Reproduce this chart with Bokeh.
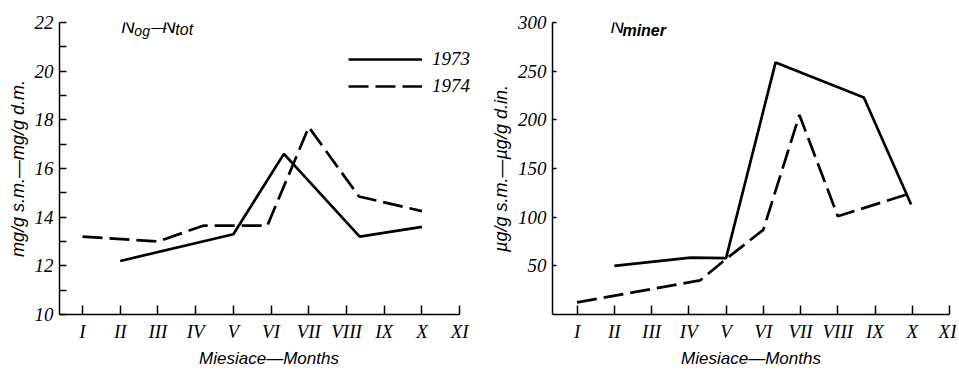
from bokeh.plotting import figure
from bokeh.models import FixedTicker, Legend, LegendItem, Label
from bokeh.layouts import row
from bokeh.embed import file_html
from bokeh.resources import INLINE

# ---- data ----
month_ticks = [1, 2, 3, 4, 5, 6, 7, 8, 9, 10, 11]
month_labels = ["I", "II", "III", "IV", "V", "VI", "VII", "VIII", "IX", "X", "XI"]

# N_og - N_tot (mg/g)
tot_1973_x = [2, 5, 6.34, 8.35, 10]
tot_1973_y = [12.2, 13.3, 16.6, 13.2, 13.6]
tot_1974_x = [1, 3, 4.2, 5.9, 7, 8.33, 10]
tot_1974_y = [13.2, 13.0, 13.65, 13.65, 17.7, 14.85, 14.25]

# N_miner (ug/g)
min_1973_x = [2, 4.05, 5, 6.33, 8.7, 9.97]
min_1973_y = [50, 58.5, 58, 259, 223, 113]
min_1974_x = [1, 4.3, 5, 6, 6.97, 8, 10]
min_1974_y = [12.5, 35, 57, 87, 205, 101, 125]

left_major = [10, 12, 14, 16, 18, 20, 22]
left_minor = [11, 13, 15, 17, 19, 21]
right_major = [50, 100, 150, 200, 250, 300]

FONT = "Liberation Sans"
NARROW = "Liberation Sans Narrow"
DASH = "20 7"
LW = 2.7
H = 370


def style(p, yticks, yminor, ylabel, xbounds):
    p.outline_line_color = None
    p.xgrid.grid_line_color = None
    p.ygrid.grid_line_color = None
    p.background_fill_color = "white"
    p.border_fill_color = "white"
    xa = p.xaxis[0]
    xa.bounds = xbounds
    xa.ticker = FixedTicker(ticks=month_ticks)
    xa.major_label_overrides = {t: l for t, l in zip(month_ticks, month_labels)}
    xa.major_tick_in = 9
    xa.major_tick_out = 0
    xa.minor_tick_line_color = None
    xa.axis_line_width = 1.5
    xa.major_tick_line_width = 1.5
    xa.major_label_text_font = NARROW
    xa.major_label_text_font_style = "italic"
    xa.major_label_text_font_size = "19px"
    xa.major_label_text_color = "black"
    xa.major_label_standoff = 6
    xa.axis_label = "Miesiace\u2014Months"
    xa.axis_label_text_font = FONT
    xa.axis_label_text_font_style = "italic"
    xa.axis_label_text_font_size = "17px"
    xa.axis_label_standoff = 4
    xa.axis_label_text_color = "black"
    ya = p.yaxis[0]
    ya.ticker = FixedTicker(ticks=yticks, minor_ticks=yminor)
    ya.major_tick_in = 7
    ya.major_tick_out = 0
    ya.minor_tick_in = 7
    ya.minor_tick_out = 0
    ya.axis_line_width = 1.5
    ya.major_tick_line_width = 1.5
    ya.minor_tick_line_width = 1.5
    ya.major_label_text_font = NARROW
    ya.major_label_text_font_style = "italic"
    ya.major_label_text_font_size = "19px"
    ya.major_label_text_color = "black"
    ya.major_label_standoff = 6
    ya.axis_label = ylabel
    ya.axis_label_text_font = FONT
    ya.axis_label_text_font_style = "italic"
    ya.axis_label_text_font_size = "18px"
    ya.axis_label_standoff = 4
    ya.axis_label_text_color = "black"


# ---- left panel ----
p1 = figure(width=480, height=H, x_range=(0.39, 11.5), y_range=(10, 22),
            output_backend="svg", toolbar_location=None,
            min_border_left=59, min_border_right=2, min_border_top=22,
            min_border_bottom=H - 22 - 299)
style(p1, left_major, left_minor, "mg/g s.m.\u2014mg/g d.m.", (0.39, 11))
r1 = p1.line(tot_1973_x, tot_1973_y, line_color="black", line_width=LW)
r2 = p1.line(tot_1974_x, tot_1974_y, line_color="black", line_width=LW, line_dash=DASH)
leg = Legend(items=[LegendItem(label="1973", renderers=[r1]),
                    LegendItem(label="1974", renderers=[r2])],
             location=(289, 217), orientation="vertical",
             glyph_width=74, glyph_height=20, spacing=5, padding=0, margin=0,
             label_standoff=10, border_line_color=None, background_fill_alpha=0,
             label_text_font=NARROW, label_text_font_style="italic",
             label_text_font_size="19px", label_text_color="black")
p1.add_layout(leg)

for txt, dx, dy, size in [("N", 0, 0, "19px"), ("og", 13, -5, "14px"),
                          ("\u2014", 30, 0, "15px"), ("N", 41, 0, "19px"),
                          ("tot", 54, -3, "16px")]:
    p1.add_layout(Label(x=2.03, y=21.84, x_offset=dx, y_offset=dy, text=txt,
                        text_font=FONT, text_font_style="italic",
                        text_font_size=size, text_baseline="middle", text_color="black"))

# ---- right panel ----
p2 = figure(width=476, height=H, x_range=(0.34, 11.0), y_range=(0, 300),
            output_backend="svg", toolbar_location=None,
            min_border_left=72, min_border_right=7, min_border_top=22,
            min_border_bottom=H - 22 - 297)
style(p2, right_major, [], "\u00b5g/g s.m.\u2014\u00b5g/g d.in.", (0.34, 11))
p2.yaxis[0].major_tick_in = 4
p2.line(min_1973_x, min_1973_y, line_color="black", line_width=LW)
p2.line(min_1974_x, min_1974_y, line_color="black", line_width=LW, line_dash=DASH)
for txt, dx, dy, size, style_ in [("N", 0, 0, "19px", "italic"),
                                  ("miner", 12, -4, "16px", "bold italic")]:
    p2.add_layout(Label(x=1.895, y=295.7, x_offset=dx, y_offset=dy, text=txt,
                        text_font=FONT, text_font_style=style_,
                        text_font_size=size, text_baseline="middle", text_color="black"))

layout = row(p1, p2, spacing=0)
open("out.html", "w").write(file_html(layout, INLINE))
